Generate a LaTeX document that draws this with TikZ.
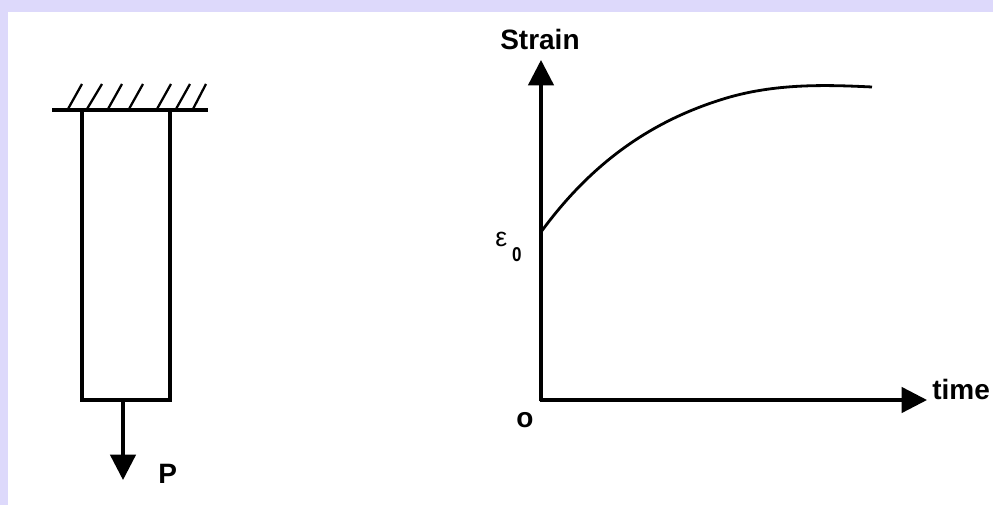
\documentclass[tikz,border=0pt]{standalone}
\usepackage{fontspec}
\setmainfont{Liberation Sans}
\usetikzlibrary{arrows.meta}
\definecolor{lav}{HTML}{DDD9FB}
\tikzset{
  px/.style={x=0.75pt,y=-0.75pt},
  ln/.style={line width=2.5pt,black,line cap=butt},
  curveln/.style={line width=2.1pt,black},
  hatchln/.style={line width=1.7pt,black},
  arr/.style={ln,-{Triangle[length=19pt,width=19pt]}},
  lab/.style={font=\fontsize{21pt}{24pt}\selectfont\bfseries,inner sep=0pt,anchor=base west},
}
\begin{document}
\begin{tikzpicture}[px]
\useasboundingbox (0,0) rectangle (993,505);
\fill[lav] (0,0) rectangle (993,505);
\fill[white] (8,12) rectangle (993,505);
% bar
\coordinate (wl) at (52,110);
\coordinate (wr) at (208,110);
\foreach \i/\a/\b in {1/68/82,2/87/102,3/108/122,4/129/143,5/157/171,6/176/190,7/193/206}{
  \draw[hatchln] (\a,109) -- (\b,84);
}
\draw[ln] (wl) -- (wr);
\node[draw,ln,line join=miter,outer sep=0pt,minimum width=66pt,minimum height=217.5pt,inner sep=0pt,anchor=north west] (bar) at (82,110) {};
\coordinate (ptip) at (123,480);
\draw[arr] (bar.south -| ptip) -- (ptip);
\node[lab] (p) at (158,484) {P};
% axes
\coordinate (o) at (541,400);
\coordinate (ytip) at (541,60);
\coordinate (xtip) at (927,400);
\draw[arr] ([yshift=-1pt]o) -- (ytip);
\draw[arr] ([xshift=-1pt]o) -- (xtip);
\node[lab] (strain) at (500,50) {Strain};
\node[lab] (time) at (932,400) {time};
\node[lab] (olab) at (516,428) {o};
\node[inner sep=0pt,anchor=base west,font=\fontsize{20pt}{22pt}\selectfont] (eps) at (495,247) {ε};
\node[inner sep=0pt,anchor=base west,font=\fontsize{15pt}{18pt}\selectfont\bfseries,xscale=0.85] (sub) at (512,262) {0};
% curve
\draw[curveln] (541,232) .. controls (590,165) and (650,120) .. (730,97)
  .. controls (780,83) and (830,85) .. (872,87);
\end{tikzpicture}
\end{document}
